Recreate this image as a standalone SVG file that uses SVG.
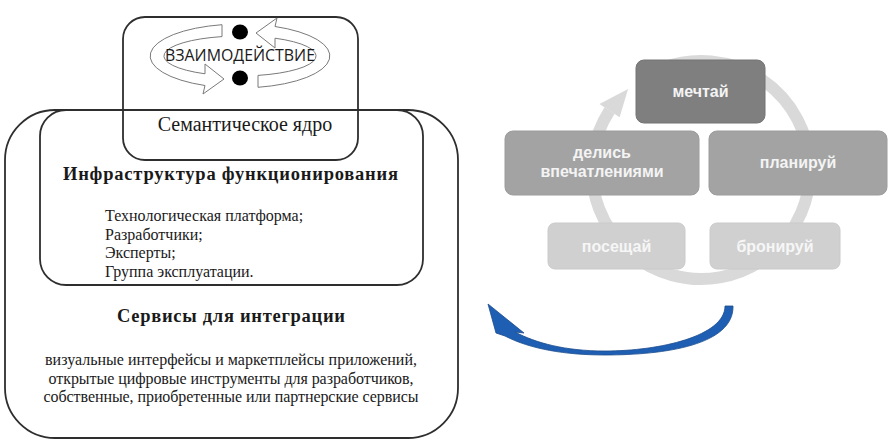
<svg xmlns="http://www.w3.org/2000/svg" width="891" height="445" viewBox="0 0 891 445">
<defs>
<style>
.frame{fill:none;stroke:#2e2e2e;stroke-width:1.8}
.serif{font-family:"Liberation Serif","Times New Roman",serif;fill:#1a1a1a}
.title{font-size:18.5px;font-weight:bold}
.item{font-size:16px}
.band{fill:#ffffff;stroke:#7a7a7a;stroke-width:1}
.dot{fill:#000}
.node text{font-family:"Liberation Sans",Arial,sans-serif;font-weight:bold;font-size:16px;text-anchor:middle}
.dark{fill:#7f7f7f;stroke:#757575;stroke-width:1}
.mid{fill:#a3a3a3;stroke:#9c9c9c;stroke-width:1}
.light{fill:#d0d0d0;stroke:#cacaca;stroke-width:1}
</style>
</defs>
<rect width="891" height="445" fill="#ffffff"/>

<g id="services">
<rect class="frame" x="5" y="110" width="453" height="328" rx="50" ry="50"/>
<text class="serif title" x="231" y="322" text-anchor="middle" textLength="228">Сервисы для интеграции</text>
<text class="serif item" x="231" y="365" text-anchor="middle" textLength="372">визуальные интерфейсы и маркетплейсы приложений,</text>
<text class="serif item" x="231" y="383.5" text-anchor="middle" textLength="365">открытые цифровые инструменты для разработчиков,</text>
<text class="serif item" x="231" y="402" text-anchor="middle" textLength="375">собственные, приобретенные или партнерские сервисы</text>
</g>

<g id="infrastructure">
<rect class="frame" x="40" y="110" width="383" height="175" rx="26" ry="26"/>
<text class="serif title" x="230.5" y="180" text-anchor="middle" textLength="335">Инфраструктура функционирования</text>
<text class="serif item" x="105" y="221">Технологическая платформа;</text>
<text class="serif item" x="105" y="239.5">Разработчики;</text>
<text class="serif item" x="105" y="258">Эксперты;</text>
<text class="serif item" x="105" y="276.5">Группа эксплуатации.</text>
</g>

<g id="semantic-core">
<rect class="frame" x="123" y="17" width="235" height="143" rx="22" ry="22"/>
<path class="band" d="M 258 87.3 A 90 32 0 0 0 275 26.5 L 277 18 L 256 33 L 275 48 L 275 38.2 A 76 20 0 0 1 258 75.4 Z"/>
<path class="band" d="M 222 24.7 A 90 32 0 0 0 205 85.5 L 203 94 L 224 79 L 205 64 L 205 73.8 A 76 20 0 0 1 222 36.6 Z"/>
<ellipse class="dot" cx="240" cy="32" rx="8" ry="7.5"/>
<ellipse class="dot" cx="240" cy="78" rx="8" ry="7.5"/>
<text x="240" y="61" text-anchor="middle" font-family="'Open Sans','Liberation Sans',sans-serif" font-size="15.5" fill="#1a1a1a" textLength="150" lengthAdjust="spacingAndGlyphs">ВЗАИМОДЕЙСТВИЕ</text>
<text class="serif" x="245" y="131" text-anchor="middle" font-size="20">Семантическое ядро</text>
</g>

<g id="connectors">
<path d="M 663.7 67.6 A 109 109 0 1 1 609.6 110.6" fill="none" stroke="#d9d9d9" stroke-width="12"/>
<polygon points="599.5,104.1 619.6,117.2 628.1,89" fill="#d9d9d9"/>
<path d="M 733 306 L 725 306 C 725 336 660 351 605 351 C 565 351 536 343 515 332 L 524 333 L 488 304 L 496 333 L 505 336 C 530 349 565 355 605 355 C 665 355 734 345 733 306 Z" fill="#1f5fb3" stroke="#1a4b8c" stroke-width="0.8"/>
</g>

<g id="node-dream" class="node">
<rect class="dark" x="636" y="60" width="129" height="63" rx="8"/>
<text x="700.5" y="97" fill="#f4f4f4">мечтай</text>
</g>
<g id="node-plan" class="node">
<rect class="mid" x="709" y="131" width="178" height="64" rx="8"/>
<text x="798" y="168" fill="#f4f4f4">планируй</text>
</g>
<g id="node-book" class="node">
<rect class="light" x="710" y="223" width="130" height="46" rx="7"/>
<text x="775" y="251.5" fill="#f6f6f6">бронируй</text>
</g>
<g id="node-visit" class="node">
<rect class="light" x="548" y="223" width="137" height="46" rx="7"/>
<text x="616.5" y="251.5" fill="#f6f6f6">посещай</text>
</g>
<g id="node-share" class="node">
<rect class="mid" x="505" y="131" width="194" height="64" rx="8"/>
<text x="602" y="158" fill="#f4f4f4">делись</text>
<text x="602" y="177" fill="#f4f4f4">впечатлениями</text>
</g>
</svg>
